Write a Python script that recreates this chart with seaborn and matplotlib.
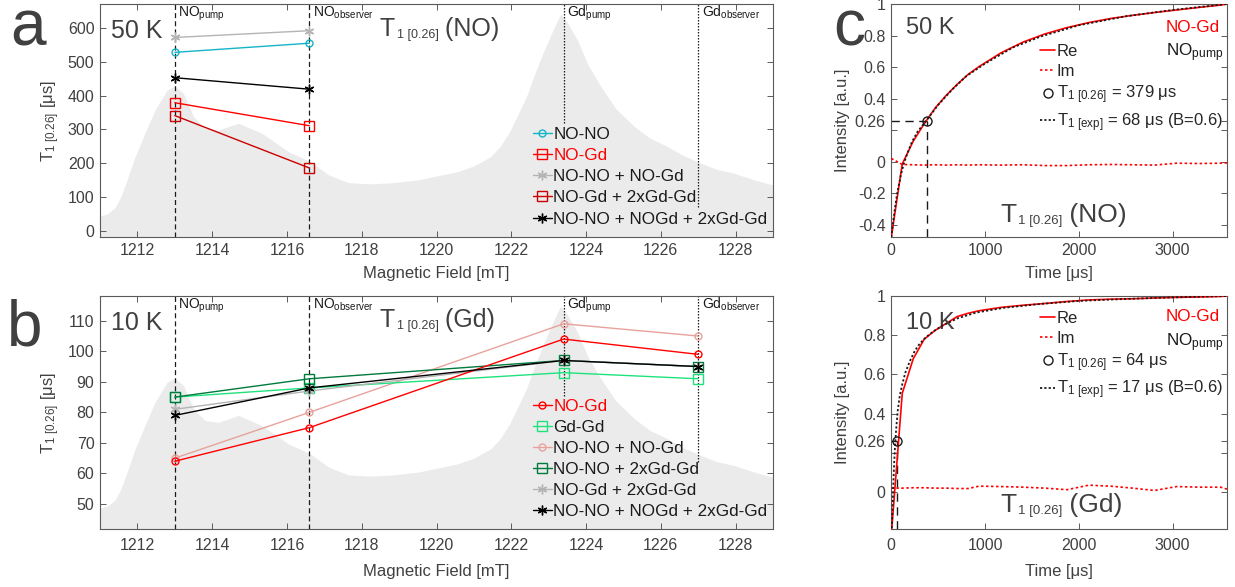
import matplotlib
matplotlib.use("Agg")
import matplotlib.pyplot as plt
import seaborn as sns

sns.set_theme(style="white")
plt.rcParams["font.family"] = ["Liberation Sans", "DejaVu Sans"]
plt.rcParams["mathtext.fontset"] = "custom"
plt.rcParams["mathtext.rm"] = "Liberation Sans"
plt.rcParams["mathtext.it"] = "Liberation Sans:italic"
plt.rcParams["mathtext.bf"] = "Liberation Sans:bold"

TEXT = "#404040"
SPINE = "#5a5a5a"
FILL = "#ebebeb"

# ---------------------------------------------------------------- data
# observer / pump field positions [mT]
field_pos = [1213.0, 1216.6, 1223.4, 1227.0]
field_species = ["NO", "NO", "Gd", "Gd"]
field_role = ["pump", "observer", "pump", "observer"]

# echo-detected field sweep, normalised to the axis height
spec_field = [1211.0, 1211.2, 1211.4, 1211.55, 1211.7, 1211.94, 1212.2, 1212.47,
              1212.79, 1213.0, 1213.23, 1213.5, 1213.81, 1214.17, 1214.7, 1215.33,
              1216.04, 1216.63, 1217.12, 1217.65, 1218.2, 1218.77, 1219.5, 1220.55,
              1221.0, 1221.45, 1221.7, 1221.95, 1222.15, 1222.4, 1222.6, 1222.8,
              1222.96, 1223.15, 1223.32, 1223.5, 1223.77, 1224.05, 1224.4, 1224.8,
              1225.3, 1225.7, 1226.18, 1226.6, 1227.08, 1227.5, 1227.97, 1228.5,
              1229.0]
spec_level = [0.09, 0.1, 0.125, 0.17, 0.235, 0.345, 0.445, 0.545,
              0.63, 0.648, 0.617, 0.516, 0.466, 0.459, 0.488, 0.445,
              0.366, 0.323, 0.266, 0.233, 0.228, 0.232, 0.245, 0.28,
              0.305, 0.345, 0.388, 0.45, 0.516, 0.6, 0.688, 0.77,
              0.831, 0.9, 0.957, 0.92, 0.845, 0.74, 0.645, 0.55,
              0.473, 0.425, 0.388, 0.35, 0.316, 0.29, 0.273, 0.245,
              0.223]

# 50 K: T1[0.26] of NO at the NO pump / observer positions [us]
a_no_no = [528, 555]
a_no_gd = [379, 311]
a_nono_nogd = [572, 592]
a_nogd_2gdgd = [341, 186]
a_nono_nogd_2gdgd = [453, 419]

# 10 K: T1[0.26] of Gd at all four positions [us]
b_no_gd = [64, 75, 104, 99]
b_gd_gd = [85, 88, 93, 91]
b_nono_nogd = [65, 80, 109, 105]
b_nono_2gdgd = [85, 91, 97, 95]
b_nogd_2gdgd = [81, 87, 97, 95]
b_nono_nogd_2gdgd = [79, 88, 97, 95]

# inversion recovery traces (NO-Gd, NO pump)
t_trace = [0, 117, 234, 351, 468, 585, 702, 819, 936, 1170, 1404, 1638, 1872,
           2106, 2340, 2574, 2808, 3042, 3276, 3510, 3580]
re_50K = [-0.48, -0.015, 0.13, 0.24, 0.34, 0.42, 0.49, 0.553, 0.603, 0.69, 0.758,
          0.81, 0.85, 0.882, 0.908, 0.928, 0.946, 0.962, 0.978, 0.993, 1.0]
im_50K = [0.02, -0.018, -0.02, -0.022, -0.02, -0.022, -0.02, -0.022, -0.02, -0.022,
          -0.02, -0.025, -0.025, -0.02, -0.018, -0.02, -0.022, -0.01, -0.012, -0.01,
          -0.008]
re_10K = [-0.22, 0.504, 0.68, 0.78, 0.825, 0.86, 0.895, 0.912, 0.925, 0.942, 0.953,
          0.962, 0.972, 0.98, 0.984, 0.986, 0.99, 0.993, 0.995, 0.998, 1.0]
im_10K = [0.02, 0.02, 0.022, 0.022, 0.02, 0.02, 0.018, 0.018, 0.03, 0.028, 0.025,
          0.02, 0.012, 0.035, 0.03, 0.02, 0.008, 0.028, 0.025, 0.025, 0.015]

# stretched-exponential fits
t_fit_50K = [0, 20, 40, 60, 80, 100, 130, 170, 220, 280, 379, 500, 650, 800, 1000,
             1300, 1600, 2000, 2500, 3000, 3580]
fit_50K = [-0.48, -0.38, -0.29, -0.21, -0.15, -0.09, -0.02, 0.05, 0.125, 0.19, 0.265,
           0.36, 0.458, 0.542, 0.622, 0.725, 0.795, 0.865, 0.922, 0.962, 1.0]
t_fit_10K = [0, 10, 20, 30, 40, 55, 70, 90, 117, 150, 200, 250, 300, 370, 450, 550,
             700, 900, 1200, 1600, 2000, 2500, 3000, 3580]
fit_10K = [-0.25, -0.12, 0.02, 0.14, 0.24, 0.34, 0.42, 0.49, 0.55, 0.61, 0.67, 0.72,
           0.755, 0.79, 0.82, 0.85, 0.885, 0.915, 0.94, 0.96, 0.975, 0.985, 0.993, 1.0]

threshold = 0.26
t1_50K = 379
t1_10K = 64
t1_exp_50K = 68
t1_exp_10K = 17
stretch = 0.6

# ---------------------------------------------------------------- figure
fig = plt.figure(figsize=(12.35, 5.87), dpi=100)
ax_a = fig.add_axes([0.0810, 0.5963, 0.5449, 0.3969])
ax_b = fig.add_axes([0.0810, 0.0983, 0.5449, 0.3974])
ax_c1 = fig.add_axes([0.7217, 0.5963, 0.2718, 0.3969])
ax_c2 = fig.add_axes([0.7217, 0.0983, 0.2718, 0.3974])

T1_LABEL = r"T$_{\mathrm{1\ [0.26]}}$"
LEG_FS = 12.3


def style_axes(ax):
    for s in ax.spines.values():
        s.set_color(SPINE)
        s.set_linewidth(0.8)
    ax.tick_params(direction="in", length=4, width=0.7, colors=SPINE,
                   labelcolor=TEXT, labelsize=11.5, top=True, right=True,
                   bottom=True, left=True, pad=4)


def big_t1_title(ax, x, y, fs, suffix):
    """T with a small, lowered [0.26] subscript followed by the species."""
    t = ax.text(x, y, "T", transform=ax.transAxes, fontsize=fs, color=TEXT,
                va="baseline")
    s = ax.annotate("1 [0.26]", xy=(1, 0), xycoords=t, xytext=(1, 0),
                    textcoords="offset points", fontsize=fs * 0.5, color=TEXT,
                    va="bottom", ha="left")
    ax.annotate(" " + suffix, xy=(1, 0), xycoords=(s, t), fontsize=fs,
                color=TEXT, va="bottom", ha="left")


def draw_sweep(ax, gd_floor):
    ax.fill_between(spec_field, 0, spec_level, color=FILL, lw=0,
                    transform=ax.get_xaxis_transform(), zorder=0)
    for i, (x, sp, role) in enumerate(zip(field_pos, field_species, field_role)):
        if sp == "NO":
            ax.axvline(x, color="k", ls=(0, (4, 2.5)), lw=0.9, zorder=1)
        else:
            ax.axvline(x, ymin=gd_floor[i - 2], ymax=1, color="k",
                       ls=(0, (1.2, 1.2)), lw=0.9, zorder=1)
        ax.text(x + 0.09, 0.945, sp + r"$_{\mathrm{" + role + "}}$",
                transform=ax.get_xaxis_transform(), fontsize=10,
                color="k", ha="left", va="baseline")


def series(ax, x, y, color, marker, label, ms, lw=1.0):
    sns.lineplot(x=x, y=y, ax=ax, color=color, lw=lw, marker=marker,
                 markersize=ms, markerfacecolor="none",
                 markeredgecolor=color, markeredgewidth=1.0, label=label,
                 zorder=3)


def sweep_legend(ax, handles, labels, top):
    leg = ax.legend(handles, labels, loc="upper left",
                    bbox_to_anchor=(0.643, top), frameon=False,
                    fontsize=LEG_FS, handlelength=1.1, handletextpad=0.1,
                    labelspacing=0.36, borderaxespad=0, borderpad=0)
    for txt in leg.get_texts():
        txt.set_color("#ff0000" if txt.get_text() == "NO-Gd" else "k")


STAR = (6, 2, 0)

# ---- panel a
draw_sweep(ax_a, [0.489, 0.129])
xa = field_pos[:2]
series(ax_a, xa, a_no_no, "#14b4c8", "o", "NO-NO", 5)
series(ax_a, xa, a_no_gd, "#ff0000", "s", "NO-Gd", 7)
series(ax_a, xa, a_nono_nogd, "#b4b4b4", STAR, "NO-NO + NO-Gd", 7)
series(ax_a, xa, a_nogd_2gdgd, "#cc0000", "s", "NO-Gd + 2xGd-Gd", 7)
series(ax_a, xa, a_nono_nogd_2gdgd, "#000000", STAR, "NO-NO + NOGd + 2xGd-Gd", 7)
ax_a.set_xlim(1211, 1229)
ax_a.set_ylim(-18, 671)
ax_a.set_xticks(range(1212, 1229, 2))
ax_a.set_yticks(range(0, 601, 100))
style_axes(ax_a)
ax_a.set_xlabel("Magnetic Field [mT]", fontsize=12, color=TEXT)
ax_a.set_ylabel(T1_LABEL + " [μs]", fontsize=12, color=TEXT)
ax_a.yaxis.set_label_coords(-0.056, 0.5)
ax_a.xaxis.set_label_coords(0.5, -0.125)
ax_a.text(0.017, 0.853, "50 K", transform=ax_a.transAxes, fontsize=18,
          color=TEXT, va="baseline")
big_t1_title(ax_a, 0.416, 0.863, 18, "(NO)")
h, l = ax_a.get_legend_handles_labels()
sweep_legend(ax_a, h, l, 0.472)

# ---- panel b
draw_sweep(ax_b, [0.571, 0.29])
series(ax_b, field_pos, b_nono_nogd, "#e8a29c", "o", "NO-NO + NO-Gd", 5)
series(ax_b, field_pos, b_gd_gd, "#1ee37c", "s", "Gd-Gd", 7)
series(ax_b, field_pos, b_nono_2gdgd, "#007a3d", "s", "NO-NO + 2xGd-Gd", 7)
series(ax_b, field_pos, b_nogd_2gdgd, "#b4b4b4", STAR, "NO-Gd + 2xGd-Gd", 7)
series(ax_b, field_pos, b_no_gd, "#ff0000", "o", "NO-Gd", 5)
series(ax_b, field_pos, b_nono_nogd_2gdgd, "#000000", STAR, "NO-NO + NOGd + 2xGd-Gd", 7)
ax_b.set_xlim(1211, 1229)
ax_b.set_ylim(41.7, 118.1)
ax_b.set_xticks(range(1212, 1229, 2))
ax_b.set_yticks(range(50, 111, 10))
style_axes(ax_b)
ax_b.tick_params(axis="x", pad=6)
ax_b.set_xlabel("Magnetic Field [mT]", fontsize=12, color=TEXT)
ax_b.set_ylabel(T1_LABEL + " [μs]", fontsize=12, color=TEXT)
ax_b.yaxis.set_label_coords(-0.056, 0.5)
ax_b.xaxis.set_label_coords(0.5, -0.148)
ax_b.text(0.017, 0.854, "10 K", transform=ax_b.transAxes, fontsize=18,
          color=TEXT, va="baseline")
big_t1_title(ax_b, 0.416, 0.869, 18, "(Gd)")
h, l = ax_b.get_legend_handles_labels()
order = ["NO-Gd", "Gd-Gd", "NO-NO + NO-Gd", "NO-NO + 2xGd-Gd", "NO-Gd + 2xGd-Gd",
         "NO-NO + NOGd + 2xGd-Gd"]
hd = dict(zip(l, h))
sweep_legend(ax_b, [hd[k] for k in order], order, 0.56)


# ---- panel c
def draw_trace(ax, re, im, t_fit, fit, t1, t1_exp, ylim, temp, tag, leg_top,
               temp_y, tag_y, lab_y, xlab_y):
    ax.set_xlim(0, 3580)
    ax.set_ylim(*ylim)
    sns.lineplot(x=t_trace, y=re, ax=ax, color="#ff0000", lw=1.2, label="Re",
                 zorder=3)
    sns.lineplot(x=t_trace, y=im, ax=ax, color="#ff0000", lw=1.2,
                 ls=(0, (1.5, 1.5)), label="Im", zorder=3)
    sns.lineplot(x=t_fit, y=fit, ax=ax, color="k", lw=1.3, ls=(0, (1.2, 1.2)),
                 label=r"T$_{\mathrm{1\ [exp]}}$ = " + f"{t1_exp} μs (B={stretch})",
                 zorder=4)
    ax.plot([0, t1], [threshold, threshold], color="k", lw=1.0,
            ls=(0, (6, 4)), zorder=2)
    ax.plot([t1, t1], [ylim[0], threshold], color="k", lw=1.0,
            ls=(0, (6, 4)), zorder=2)
    circ, = ax.plot([t1], [threshold], ls="none", marker="o", ms=6.5,
                    mfc="none", mec="k", mew=1.0, zorder=5,
                    label=T1_LABEL + f" = {t1} μs")
    style_axes(ax)
    ax.set_xticks([0, 1000, 2000, 3000])
    h, l = ax.get_legend_handles_labels()
    hd = dict(zip(l, h))
    keys = [l[0], l[1], circ.get_label(), l[2]]
    ax.legend([hd[k] for k in keys], keys, loc="upper left",
              bbox_to_anchor=(0.443, leg_top), frameon=False, fontsize=12,
              handlelength=0.9, handletextpad=0.1, labelspacing=0.3,
              borderaxespad=0, borderpad=0)
    ax.set_xlabel("Time [μs]", fontsize=12, color=TEXT)
    ax.set_ylabel("Intensity [a.u.]", fontsize=12, color=TEXT)
    ax.yaxis.set_label_coords(-0.123, 0.5)
    ax.xaxis.set_label_coords(0.5, xlab_y)
    ax.text(0.045, temp_y, temp, transform=ax.transAxes, fontsize=17,
            color=TEXT, va="center")
    big_t1_title(ax, 0.324, tag_y, 19, tag)
    ax.text(0.818, lab_y[0], "NO-Gd", transform=ax.transAxes, fontsize=12.3,
            color="#ff0000", va="center")
    ax.text(0.818, lab_y[1], r"NO$_{\mathrm{pump}}$", transform=ax.transAxes,
            fontsize=12.3, color="k", va="center")


draw_trace(ax_c1, re_50K, im_50K, t_fit_50K, fit_50K, t1_50K, t1_exp_50K,
           (-0.478, 1.0), "50 K", "(NO)", 0.83, 0.895, 0.066, (0.899, 0.79),
           -0.125)
ax_c1.set_yticks([-0.4, -0.2, 0, 0.2, 0.26, 0.4, 0.6, 0.8, 1])
ax_c1.set_yticklabels(["-0.4", "-0.2", "0", "", "0.26", "0.4", "0.6", "0.8", "1"])

draw_trace(ax_c2, re_10K, im_10K, t_fit_10K, fit_10K, t1_10K, t1_exp_10K,
           (-0.19, 1.0), "10 K", "(Gd)", 0.935, 0.886, 0.075, (0.914, 0.8),
           -0.148)
ax_c2.set_yticks([0, 0.2, 0.26, 0.4, 0.6, 0.8, 1])
ax_c2.set_yticklabels(["0", "", "0.26", "0.4", "0.6", "0.8", "1"])
ax_c2.tick_params(axis="x", pad=6)

# panel letters
fig.text(0.008, 0.923, "a", fontsize=46, color=TEXT, va="baseline")
fig.text(0.006, 0.412, "b", fontsize=46, color=TEXT, va="baseline")
fig.text(0.675, 0.923, "c", fontsize=46, color=TEXT, va="baseline")

fig.savefig("out.png", dpi=100)
